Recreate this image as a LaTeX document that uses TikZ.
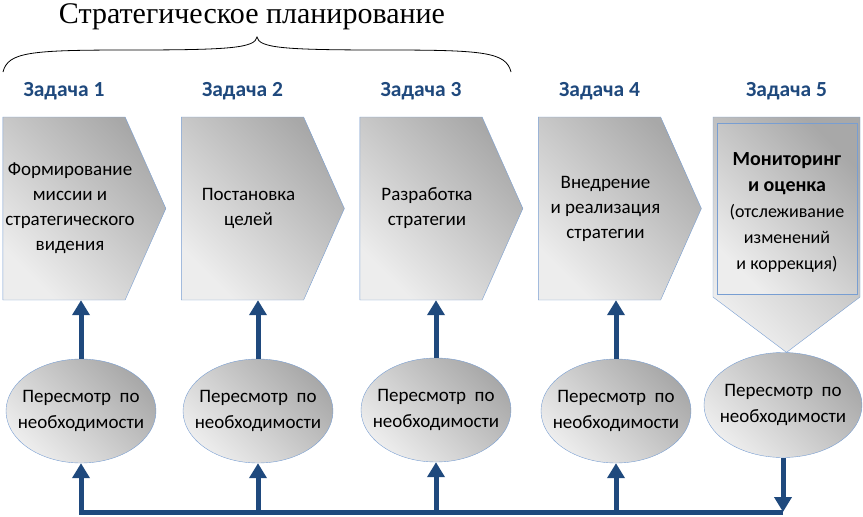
\documentclass[tikz,border=0pt]{standalone}
\usepackage{fontspec}
\setmainfont{Carlito}
\newfontfamily\titlefont{Liberation Serif}
\usepackage{xcolor}
\usepackage{tikz}
\usetikzlibrary{shapes.geometric, shapes.symbols, arrows.meta, positioning}
\definecolor{taskblue}{RGB}{31,73,125}
\definecolor{edgeblue}{RGB}{120,158,210}
\tikzstyle{shadegrey} = [top color=black!34, bottom color=black!7, shading angle=-45]
\tikzstyle{chevron}   = [signal, signal to=east, signal from=nowhere, signal pointer angle=132, minimum width=163pt, minimum height=183pt, inner sep=0pt, draw=edgeblue, shadegrey]
\tikzstyle{chevtext}  = [inner sep=0pt, font=\fontsize{19}{25}\selectfont]
\tikzstyle{monitor}   = [signal, signal to=south, signal from=nowhere, signal pointer angle=106, minimum width=147pt, minimum height=180pt, inner sep=0pt, draw=edgeblue, shadegrey]
\tikzstyle{monbox}    = [rectangle, minimum width=140pt, minimum height=171pt, inner sep=0pt, draw=edgeblue, shadegrey]
\tikzstyle{review}    = [ellipse, minimum width=150pt, minimum height=104pt, inner sep=-20pt, draw=edgeblue, shadegrey, font=\fontsize{19}{26}\selectfont]
\tikzstyle{tasklabel} = [inner sep=0pt, text=taskblue, font=\bfseries\fontsize{21.5}{24}\selectfont]
\tikzstyle{arrow}     = [line width=5pt, draw=taskblue, -{Triangle[width=17pt,length=15pt]}]
\tikzset{every node/.style={align=center}}

\begin{document}
\begin{tikzpicture}[x=1pt, y=-1pt, node distance=178.5pt]
    \useasboundingbox (0,0) rectangle (863,517);

    % title with brace
    \node (title) [font=\titlefont\fontsize{30}{34}\selectfont, anchor=base] at (252,23) {Стратегическое планирование};
    \draw [line width=0.8pt] (3,72) .. controls (8,52) and (30,50) .. (130,50)
        .. controls (230,50) and (255,48) .. (257,37)
        .. controls (259,48) and (284,50) .. (384,50)
        .. controls (484,50) and (506,52) .. (511,72);

    % tasks
    \node (c1) [chevron] at (64,208.5) {};
    \node (c2) [chevron, right of=c1] {};
    \node (c3) [chevron, right of=c2] {};
    \node (c4) [chevron, right of=c3] {};
    \node (c1t) [chevtext] at ([xshift=6pt]c1) {Формирование\\миссии и\\стратегического\\видения};
    \node (c2t) [chevtext] at ([xshift=6pt]c2) {Постановка\\целей};
    \node (c3t) [chevtext] at ([xshift=6pt]c3) {Разработка\\стратегии};
    \node (c4t) [chevtext] at ([xshift=6pt]c4) {Внедрение\\и реализация\\стратегии};

    \node (m5out) [monitor] at (786.5,207) {};
    \node (m5) [monbox] at (787,208.5) {};
    \node (m5t) [chevtext, font=\fontsize{18}{26}\selectfont] at ([yshift=-4pt]m5) {{\fontsize{20}{26}\selectfont\bfseries Мониторинг}\\{\fontsize{20}{26}\selectfont\bfseries и оценка}\\(отслеживание\\изменений\\и коррекция)};

    \node (t1) [tasklabel, above=17pt of c1] {Задача 1};
    \node (t2) [tasklabel, above=17pt of c2] {Задача 2};
    \node (t3) [tasklabel, above=17pt of c3] {Задача 3};
    \node (t4) [tasklabel, above=17pt of c4] {Задача 4};
    \node (t5) [tasklabel, above=17pt of m5out] {Задача 5};

    % reviews
    \node (e1) [review] at (81,411) {Пересмотр~~по\\необходимости};
    \node (e2) [review] at (258,411) {Пересмотр~~по\\необходимости};
    \node (e3) [review] at (436,410) {Пересмотр~~по\\необходимости};
    \node (e4) [review] at (616,411) {Пересмотр~~по\\необходимости};
    \node (e5) [review, minimum width=158pt, minimum height=105pt] at (783,405) {Пересмотр~~по\\необходимости};

    \foreach \e/\c in {e1/c1, e2/c2, e3/c3, e4/c4}
        \draw [arrow] (\e.north) -- (\e.north |- \c.south);

    \coordinate (base) at (0,512);
    \draw [arrow] (e5.south) -- (e5.south |- base);
    \draw [arrow] (e5.south |- base) -- (e1.south |- base) -- (e1.south);
    \foreach \e in {e2, e3, e4}
        \draw [arrow] (\e.south |- base) -- (\e.south);
\end{tikzpicture}
\end{document}
